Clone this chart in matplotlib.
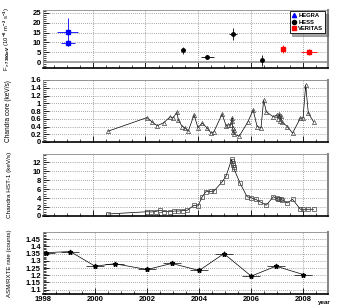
import matplotlib
matplotlib.use("Agg")
import matplotlib.pyplot as plt
from matplotlib.ticker import MultipleLocator, AutoMinorLocator

plt.rcParams['font.family'] = ['Liberation Sans', 'DejaVu Sans']
plt.rcParams['font.weight'] = 'bold'
plt.rcParams['mathtext.fontset'] = 'custom'
plt.rcParams['mathtext.rm'] = 'Liberation Sans:bold'

# --- TeV flux panel ---
hegra_x = [1999.05, 1999.05]
hegra_y = [15.2, 9.6]
hegra_yerr = [7.0, 1.5]
hegra_xerr = [0.4, 0.25]

hess_x = [2003.43, 2004.35, 2005.34, 2006.45]
hess_y = [6.1, 2.6, 14.3, 0.9]
hess_yerr = [1.8, 1.0, 3.0, 2.8]
hess_xerr = [0.08, 0.25, 0.15, 0.05]

veritas_x = [2007.24, 2008.23]
veritas_y = [6.6, 5.3]
veritas_yerr = [2.0, 1.6]
veritas_xerr = [0.05, 0.3]

# --- Chandra core ---
core_x = [2000.58, 2002.06, 2002.25, 2002.45, 2002.7, 2002.94, 2003.05, 2003.2, 2003.25,
          2003.4, 2003.5, 2003.63, 2003.85, 2004.0, 2004.16, 2004.35, 2004.5, 2004.6,
          2004.92, 2005.07, 2005.15, 2005.25, 2005.28, 2005.3, 2005.32, 2005.34, 2005.36,
          2005.38, 2005.57, 2005.9, 2006.1, 2006.25, 2006.4, 2006.5, 2006.6, 2006.87,
          2007.0, 2007.05, 2007.1, 2007.13, 2007.16, 2007.2, 2007.4, 2007.6, 2007.9,
          2008.0, 2008.1, 2008.2, 2008.4]
core_y = [0.28, 0.63, 0.52, 0.42, 0.5, 0.65, 0.62, 0.77, 0.57,
          0.40, 0.37, 0.28, 0.70, 0.37, 0.49, 0.36, 0.23, 0.26,
          0.72, 0.42, 0.44, 0.45, 0.55, 0.62, 0.35, 0.25, 0.30, 0.20,
          0.15, 0.52, 0.83, 0.40, 0.37, 1.08, 0.78, 0.65,
          0.70, 0.60, 0.72, 0.55, 0.68, 0.52, 0.40, 0.23, 0.62,
          0.62, 1.47, 0.75, 0.52]

# --- Chandra HST-1 ---
hst_x = [2000.58, 2002.06, 2002.2, 2002.4, 2002.55, 2002.7, 2002.94, 2003.1, 2003.25,
         2003.43, 2003.6, 2003.85, 2004.0, 2004.16, 2004.3, 2004.5, 2004.6, 2004.92,
         2005.07, 2005.28, 2005.3, 2005.32, 2005.34, 2005.36, 2005.38, 2005.6, 2005.87,
         2006.0, 2006.2, 2006.35, 2006.6, 2006.87, 2007.0, 2007.05, 2007.1, 2007.15,
         2007.2, 2007.4, 2007.6, 2007.9, 2008.0, 2008.2, 2008.4]
hst_y = [0.45, 0.95, 0.9, 1.0, 1.3, 1.0, 0.95, 1.1, 1.1,
         1.2, 1.3, 2.4, 2.2, 4.3, 5.4, 5.5, 5.5, 7.6,
         8.9, 12.6, 12.2, 11.8, 11.4, 10.9, 10.4, 7.3, 4.3,
         4.1, 3.7, 3.2, 2.4, 4.3, 3.9, 3.8, 3.7, 3.8,
         3.6, 2.9, 3.7, 1.5, 1.5, 1.5, 1.5]

# --- ASM/RXTE ---
asm_x = [1998.1, 1999.05, 2000.0, 2000.75, 2002.0, 2002.95, 2004.0, 2004.95, 2006.0,
         2006.95, 2008.0]
asm_y = [1.357, 1.364, 1.263, 1.280, 1.240, 1.282, 1.233, 1.350, 1.194, 1.263, 1.205]
asm_yerr = [0.012, 0.012, 0.012, 0.012, 0.012, 0.012, 0.012, 0.015, 0.012, 0.015, 0.012]
asm_xerr = [0.35] * 11

fig = plt.figure(figsize=(3.39, 3.07), dpi=100)
W, H = 339.0, 307.0
left, right = 43 / W, 328 / W
boxes = [(10, 68), (80, 142), (154, 216), (232, 294)]
axes = []
for top, bot in boxes:
    ax = fig.add_axes([left, 1 - bot / H, right - left, (bot - top) / H])
    axes.append(ax)

grid_kw = dict(color='#555555', linestyle=(0, (1, 2)), linewidth=0.5)
for ax in axes:
    ax.set_xlim(1998.1, 2008.95)
    ax.xaxis.set_major_locator(MultipleLocator(2))
    ax.xaxis.set_minor_locator(MultipleLocator(0.5))
    ax.yaxis.set_minor_locator(AutoMinorLocator(5))
    ax.grid(True, which='major', **grid_kw)
    ax.tick_params(which='both', direction='in', labelsize=5.5, pad=1.5)
    ax.tick_params(which='major', length=4, width=0.6)
    ax.tick_params(which='minor', length=2, width=0.5)
    for s in ['left', 'top']:
        ax.spines[s].set_color('#888888')
        ax.spines[s].set_linewidth(0.6)
    ax.spines['right'].set_color('#888888')
    ax.spines['right'].set_linewidth(1.5)
    ax.spines['bottom'].set_color('black')
    ax.spines['bottom'].set_linewidth(1.2)
    if ax is not axes[-1]:
        ax.tick_params(labelbottom=False)
    ax.set_axisbelow(True)

# panel 1
ax = axes[0]
ax.set_ylim(-3, 26.5)
ax.yaxis.set_major_locator(MultipleLocator(5))
ax.axhline(0, color='#999999', linewidth=1.2, zorder=1)
ax.errorbar(hegra_x, hegra_y, yerr=hegra_yerr, xerr=hegra_xerr, fmt='s', color='blue',
            ms=2.5, elinewidth=0.6, capsize=0, label='HEGRA')
ax.errorbar(hess_x, hess_y, yerr=hess_yerr, xerr=hess_xerr, fmt='o', color='black',
            ms=2.5, elinewidth=0.6, capsize=0, label='HESS')
ax.errorbar(veritas_x, veritas_y, yerr=veritas_yerr, xerr=veritas_xerr, fmt='s', color='red',
            ms=3, elinewidth=0.6, capsize=0, label='VERITAS')
ax.set_ylabel(r'F$_{>730GeV}$ (10$^{-8}$ m$^{-2}$ s$^{-1}$)', fontsize=4.2)
h1 = plt.Line2D([], [], marker='^', color='blue', ls='none', ms=3)
h2 = plt.Line2D([], [], marker='o', color='black', ls='none', ms=3)
h3 = plt.Line2D([], [], marker='s', color='red', ls='none', ms=3)
leg = ax.legend([h1, h2, h3], ['HEGRA', 'HESS', 'VERITAS'], loc='upper right',
                fontsize=4.2, frameon=True, fancybox=False, shadow=True,
                borderpad=0.3, labelspacing=0.25, handletextpad=0.2,
                handlelength=1.0, bbox_to_anchor=(1.0, 1.03))
leg.get_frame().set_edgecolor('black')
leg.get_frame().set_linewidth(0.6)

# panel 2
ax = axes[1]
ax.set_ylim(0, 1.6)
ax.set_yticks([0, 0.2, 0.4, 0.6, 0.8, 1.0, 1.2, 1.4, 1.6])
ax.set_yticklabels(['0', '0.2', '0.4', '0.6', '0.8', '1', '1.2', '1.4', '1.6'])
ax.yaxis.set_minor_locator(AutoMinorLocator(4))
ax.plot(core_x, core_y, color='black', lw=0.5, marker='^', ms=3, mfc='none',
        mec='#444444', mew=0.5)
ax.set_ylabel('Chandra core (keV/s)', fontsize=4.7)

# panel 3
ax = axes[2]
ax.set_ylim(0, 13.8)
ax.yaxis.set_major_locator(MultipleLocator(2))
ax.yaxis.set_minor_locator(AutoMinorLocator(4))
ax.plot(hst_x, hst_y, color='black', lw=0.5, marker='s', ms=3, mfc='none',
        mec='#444444', mew=0.5)
ax.set_ylabel('Chandra HST-1 (keV/s)', fontsize=4.6)

# panel 4
ax = axes[3]
ax.set_ylim(1.07, 1.5)
ax.set_yticks([1.1, 1.15, 1.2, 1.25, 1.3, 1.35, 1.4, 1.45])
ax.set_yticklabels(['1.1', '1.15', '1.2', '1.25', '1.3', '1.35', '1.4', '1.45'])
ax.yaxis.set_minor_locator(AutoMinorLocator(5))
ax.errorbar(asm_x, asm_y, yerr=asm_yerr, xerr=asm_xerr, fmt='*-', color='black',
            ms=3.5, lw=0.5, elinewidth=0.5, capsize=0)
ax.set_ylabel('ASM/RXTE rate (counts)', fontsize=4.4)
ax.set_xticks([1998, 2000, 2002, 2004, 2006, 2008])
ax.set_xticklabels(['1998', '2000', '2002', '2004', '2006', '2008'])
ax.text(2008.55, -0.09, 'year', transform=ax.get_xaxis_transform(), fontsize=4.5,
        ha='left', va='top')

for ax in axes:
    ax.yaxis.set_label_coords(-0.11, 0.5)

fig.savefig('out.png', dpi=100)
